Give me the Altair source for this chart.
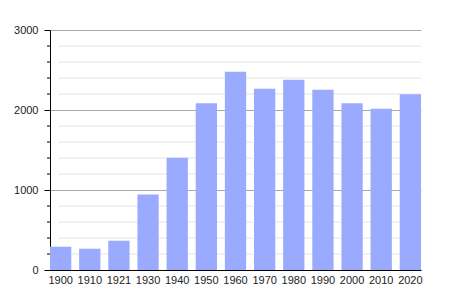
import altair as alt
import pandas as pd

years = ["1900", "1910", "1921", "1930", "1940", "1950", "1960", "1970", "1980", "1990", "2000", "2010", "2020"]
population = [291, 266, 366, 945, 1404, 2084, 2479, 2266, 2379, 2254, 2084, 2016, 2196]
major_ticks = [0, 1000, 2000, 3000]
minor_ticks = [200, 400, 600, 800, 1200, 1400, 1600, 1800, 2200, 2400, 2600, 2800]

df = pd.DataFrame({"year": years, "pop": population})
minor_df = pd.DataFrame({"v": minor_ticks})

yscale = alt.Scale(domain=[0, 3000], nice=False)
y_axis = alt.Axis(
    values=major_ticks,
    format="d",
    grid=True,
    gridColor="#a8a8a8",
    domainColor="#000000",
    tickColor="#000000",
    tickSize=6,
    labelFont="Liberation Sans",
    labelFontSize=11,
    labelColor="#222222",
    labelPadding=6,
    title=None,
)

minor_grid = alt.Chart(minor_df).mark_rule(color="#e4e4e4", strokeWidth=1).encode(
    y=alt.Y("v:Q", scale=yscale, axis=y_axis),
    x=alt.value(8),
    x2=alt.value(371),
)

minor_tick_marks = alt.Chart(minor_df).mark_rule(color="#000000", strokeWidth=1).encode(
    y=alt.Y("v:Q", scale=yscale, axis=y_axis),
    x=alt.value(-3),
    x2=alt.value(0),
)

bars = alt.Chart(df).mark_bar(color="#99aaff").encode(
    x=alt.X(
        "year:N",
        sort=years,
        title=None,
        scale=alt.Scale(paddingInner=0.27, paddingOuter=0.0),
        axis=alt.Axis(
            labelAngle=0,
            ticks=False,
            domainColor="#000000",
            labelFont="Liberation Sans",
            labelFontSize=11,
            labelColor="#222222",
            labelPadding=4,
        ),
    ),
    y=alt.Y("pop:Q", scale=yscale, axis=y_axis),
)

chart = alt.layer(minor_grid, minor_tick_marks, bars).properties(
    width=371,
    height=240,
    autosize=alt.AutoSizeParams(type="none"),
    padding={"left": 50, "top": 30, "right": 29, "bottom": 30},
).configure_view(stroke=None)

chart.save("out.html", embed_options={"renderer": "svg", "actions": False})
